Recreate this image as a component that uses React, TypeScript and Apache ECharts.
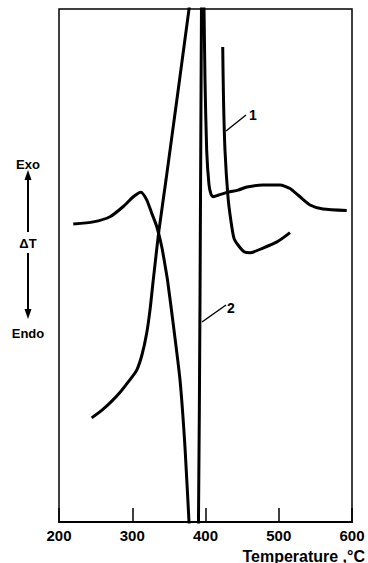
import React, { useEffect, useRef } from "react";
import * as echarts from "echarts";

// Temperature (°C) tick labels
const xTicks = [200, 300, 400, 500, 600];

// Curve 1 (ΔT, arbitrary units 0-100); '-' breaks the line where it leaves the frame
const curve1T = [244.6, 258.7, 272.4, 284.6, 295.6, 306.1, 313.3, 319.7, 324.2, 328.7, 332.4, 336.5, 346.1, 377.5, 380.2, 400,
  423.5, 424.6, 426.6, 430.7, 434.8, 438.9, 444.4, 452.6, 460.8, 478.5, 497.6, 515.4];
const curve1V: (number | string)[] = [20.3, 21.8, 23.6, 25.5, 27.5, 29.6, 32.6, 36.8, 41.3, 47.2, 51.9, 56.9, 66.7, 100, 103.7, "-",
  92.6, 82.3, 72.5, 63.4, 58.6, 55.3, 54.0, 52.7, 52.5, 53.4, 54.6, 56.4];

// Curve 2
const curve2T = [219.5, 246.8, 269.6, 287.8, 301.4, 311.9, 319.7, 326.6, 333.4, 340.2, 344.0, 348.1, 357.0, 365.2, 372.0, 377.5,
  379.5, 388.4, 390.4, 392.5, 394.5, 395.2, 397.3, 398.0, 399.3, 401.6, 404.8, 407.5, 410.2, 417.1, 430.7, 444.4, 456.6, 478.5,
  501.7, 515.4, 529.0, 542.7, 560.4, 592.8];
const curve2V = [58.1, 58.5, 59.5, 61.5, 63.4, 64.3, 62.8, 60.2, 57.6, 53.7, 50.7, 47.2, 37.4, 27.7, 14.6, 0,
  -4.5, -4.5, 0, 43.3, 100, 103.7, 103.7, 100, 86.2, 72.5, 65.7, 63.9, 63.4, 63.7, 64.3, 64.7, 65.3, 65.7,
  65.7, 65.0, 63.4, 61.8, 61.0, 60.7];

const FONT = "Liberation Sans, Arial, sans-serif";

export default function App() {
  const ref = useRef<HTMLDivElement>(null);
  useEffect(() => {
    if (!ref.current) return;
    const chart = echarts.init(ref.current, undefined, { renderer: "svg" });
    const d1 = curve1T.map((t, i) => [t, curve1V[i]]);
    const d2 = curve2T.map((t, i) => [t, curve2V[i]]);
    const lineStyle = { color: "#000", width: 3 };
    chart.setOption({
      animation: false,
      backgroundColor: "#fff",
      grid: { left: 59, right: 16, top: 9, bottom: 41, show: true, borderColor: "#000", borderWidth: 1.5 },
      xAxis: {
        type: "value",
        min: xTicks[0],
        max: xTicks[xTicks.length - 1],
        interval: 100,
        axisLine: { show: true, lineStyle: { color: "#000", width: 2 } },
        axisTick: { show: true, inside: true, length: 14, lineStyle: { color: "#000", width: 1.5 } },
        axisLabel: { color: "#000", fontSize: 15, fontWeight: "bold", fontFamily: FONT, margin: 6 },
        splitLine: { show: false },
      },
      yAxis: {
        type: "value",
        min: 0,
        max: 100,
        axisLine: { show: false },
        axisTick: { show: false },
        axisLabel: { show: false },
        splitLine: { show: false },
      },
      series: [
        { name: "1", type: "line", data: d1, showSymbol: false, smooth: 0.25, clip: true, lineStyle, connectNulls: false },
        { name: "2", type: "line", data: d2, showSymbol: false, smooth: 0.2, clip: true, lineStyle },
      ],
      graphic: [
        { type: "text", x: 28, y: 164, style: { text: "Exo", fill: "#000", font: `bold 13px ${FONT}`, align: "center", verticalAlign: "middle" } },
        { type: "line", shape: { x1: 28, y1: 232, x2: 28, y2: 178 }, style: { stroke: "#000", lineWidth: 2 } },
        { type: "polygon", shape: { points: [[28, 170], [24.5, 180], [31.5, 180]] }, style: { fill: "#000" } },
        { type: "text", x: 28, y: 243, style: { text: "ΔT", fill: "#000", font: `bold 13px ${FONT}`, align: "center", verticalAlign: "middle" } },
        { type: "line", shape: { x1: 28, y1: 253, x2: 28, y2: 310 }, style: { stroke: "#000", lineWidth: 2 } },
        { type: "polygon", shape: { points: [[28, 319], [24.5, 309], [31.5, 309]] }, style: { fill: "#000" } },
        { type: "text", x: 28, y: 333, style: { text: "Endo", fill: "#000", font: `bold 13px ${FONT}`, align: "center", verticalAlign: "middle" } },
        { type: "line", shape: { x1: 246, y1: 115, x2: 226, y2: 131 }, style: { stroke: "#000", lineWidth: 1.5 } },
        { type: "text", x: 253, y: 115, style: { text: "1", fill: "#000", font: `bold 14px ${FONT}`, align: "center", verticalAlign: "middle" } },
        { type: "line", shape: { x1: 226, y1: 305, x2: 202, y2: 322 }, style: { stroke: "#000", lineWidth: 1.5 } },
        { type: "text", x: 231, y: 308, style: { text: "2", fill: "#000", font: `bold 14px ${FONT}`, align: "center", verticalAlign: "middle" } },
        { type: "text", x: 365, y: 556, style: { text: "Temperature ,°C", fill: "#000", font: `bold 16px ${FONT}`, align: "right", verticalAlign: "middle" } },
      ],
    });
    return () => chart.dispose();
  }, []);
  return <div ref={ref} style={{ position: "fixed", left: 0, top: 0, width: 368, height: 563 }} />;
}
